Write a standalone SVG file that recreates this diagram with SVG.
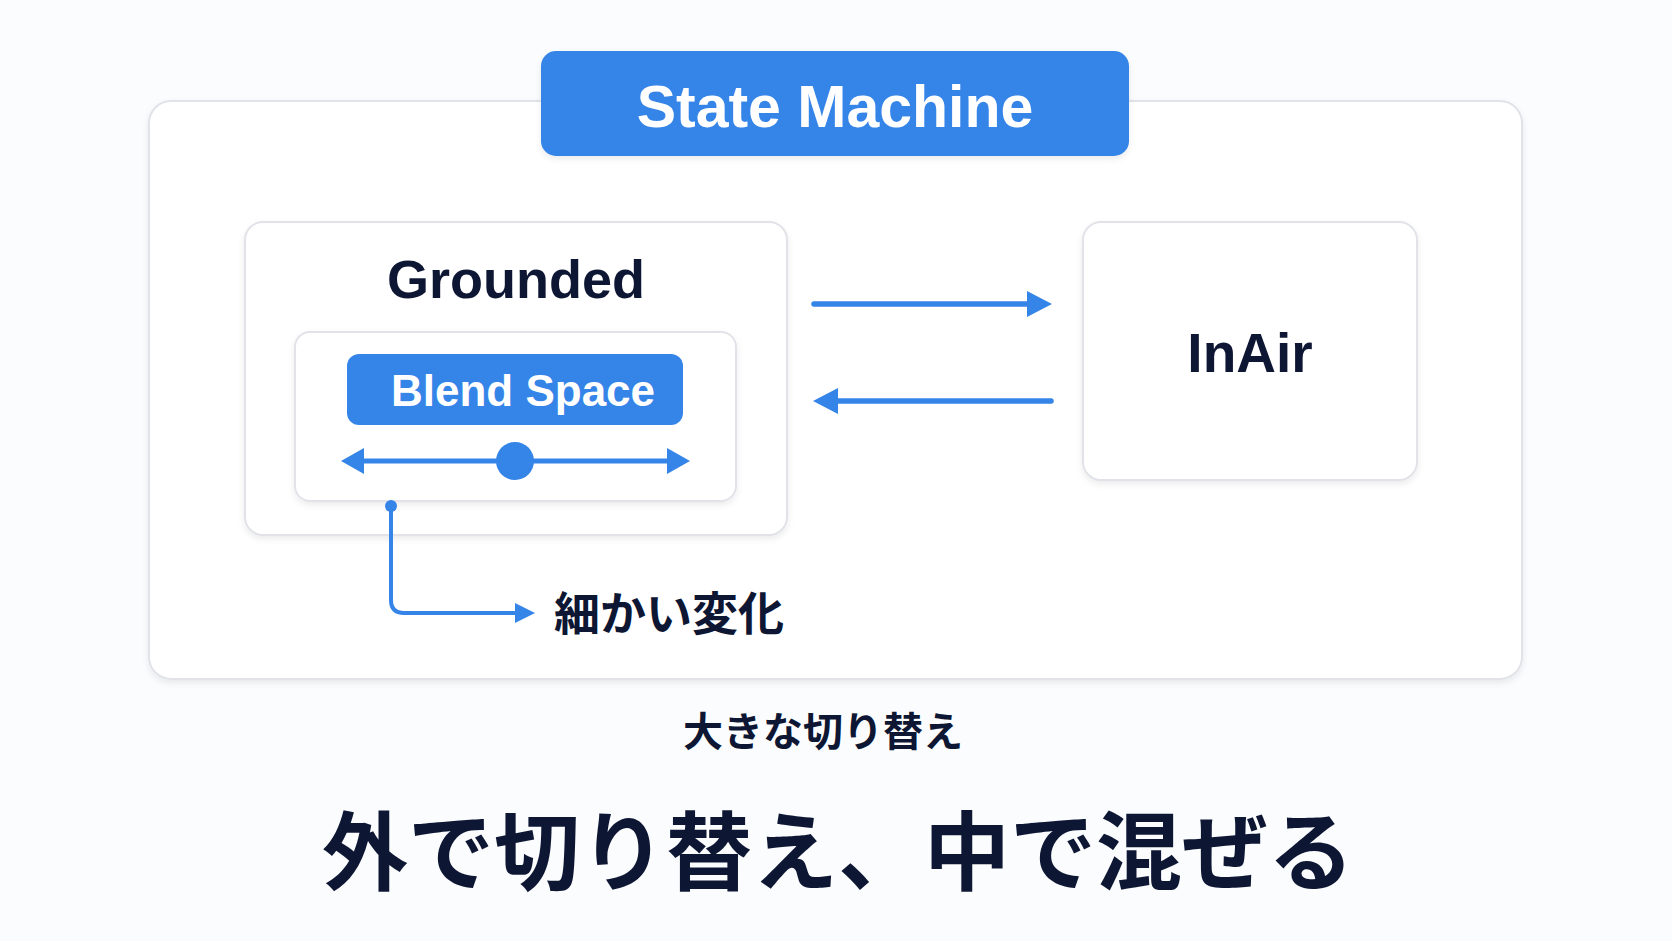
<svg xmlns="http://www.w3.org/2000/svg" width="1672" height="941" viewBox="0 0 1672 941">
  <style>
    .box { fill: #ffffff; stroke: #e1e3e8; stroke-width: 2; }
    .pill { fill: #3584e8; }
    .lbl { font-family: "Liberation Sans", Arial, sans-serif; font-weight: bold; text-anchor: middle; }
    .jp { font-family: "Noto Sans CJK JP", "Noto Sans", sans-serif; font-weight: bold; fill: #0d1633; }
    .dark { fill: #0d1633; }
    .white { fill: #ffffff; }
    .conn { fill: none; stroke: #3584e8; stroke-linecap: round; }
  </style>
  <defs>
    <filter id="sh" x="-10%" y="-10%" width="120%" height="130%">
      <feDropShadow dx="0" dy="3" stdDeviation="3" flood-color="#000000" flood-opacity="0.08"/>
    </filter>
    <marker id="ah" markerUnits="userSpaceOnUse" markerWidth="26" markerHeight="28" viewBox="0 0 26 28" refX="14" refY="14" orient="auto">
      <path d="M0,1 L25,14 L0,27 z" fill="#3584e8"/>
    </marker>
    <marker id="ahs" markerUnits="userSpaceOnUse" markerWidth="22" markerHeight="22" viewBox="0 0 22 22" refX="12" refY="11" orient="auto-start-reverse">
      <path d="M0,1 L20,11 L0,21 z" fill="#3584e8"/>
    </marker>
    <marker id="ahb" markerUnits="userSpaceOnUse" markerWidth="24" markerHeight="28" viewBox="0 0 24 28" refX="12" refY="14" orient="auto-start-reverse">
      <path d="M0,1 L23,14 L0,27 z" fill="#3584e8"/>
    </marker>
  </defs>

  <rect x="0" y="0" width="1672" height="941" fill="#fbfcfd"/>

  <g id="state-machine">
    <rect class="box" x="149" y="101" width="1373" height="578" rx="22" filter="url(#sh)"/>
    <rect class="pill" x="541" y="51" width="588" height="105" rx="15" filter="url(#sh)"/>
    <text class="lbl white" x="835" y="127" font-size="59">State Machine</text>
  </g>

  <g id="grounded">
    <rect class="box" x="245" y="222" width="542" height="313" rx="18" filter="url(#sh)"/>
    <text class="lbl dark" x="516" y="298" font-size="54">Grounded</text>
  </g>

  <g id="blend-space">
    <rect class="box" x="295" y="332" width="441" height="169" rx="15" filter="url(#sh)"/>
    <rect class="pill" x="347" y="354" width="336" height="71" rx="12"/>
    <text class="lbl white" x="523" y="406" font-size="44">Blend Space</text>
    <line class="conn" x1="352" y1="461" x2="679" y2="461" stroke-width="5" marker-start="url(#ahb)" marker-end="url(#ahb)"/>
    <circle cx="515" cy="461" r="19" fill="#3584e8"/>
  </g>

  <g id="inair">
    <rect class="box" x="1083" y="222" width="334" height="258" rx="18" filter="url(#sh)"/>
    <text class="lbl dark" x="1250" y="372" font-size="55">InAir</text>
  </g>

  <g id="labels">
    <text class="jp" x="554" y="630" font-size="46">細かい変化</text>
    <text class="jp" x="823" y="746" font-size="40" text-anchor="middle">大きな切り替え</text>
    <text class="jp" x="838" y="884" font-size="86" text-anchor="middle">外で切り替え、中で混ぜる</text>
  </g>

  <g id="connectors">
    <line class="conn" x1="814" y1="304" x2="1041" y2="304" stroke-width="5.5" marker-end="url(#ah)"/>
    <line class="conn" x1="1051" y1="401" x2="824" y2="401" stroke-width="5.5" marker-end="url(#ah)"/>
    <circle cx="391" cy="506" r="6" fill="#3584e8"/>
    <path class="conn" d="M391,506 V600 Q391,613 404,613 H527" stroke-width="4" marker-end="url(#ahs)"/>
  </g>
</svg>
